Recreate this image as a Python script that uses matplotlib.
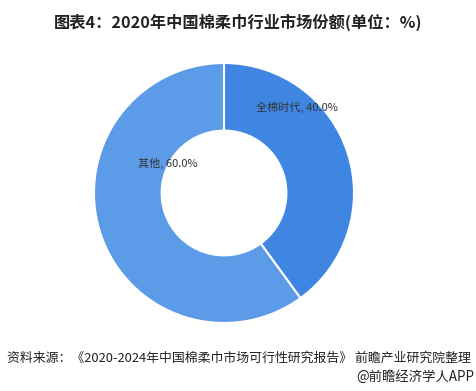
import matplotlib.pyplot as plt

plt.rcParams['font.family'] = ['Noto Sans CJK SC', 'DejaVu Sans']

labels = ['全棉时代', '其他']
shares = [40.0, 60.0]
colors = ['#3F86E2', '#5C9BE8']

fig = plt.figure(figsize=(4.76, 3.91), dpi=100)
# axes placed so the ring centre sits at about (224, 193) px
ax = fig.add_axes([(224 - 130) / 476, 1 - (193 + 130) / 391, 260 / 476, 260 / 391])
wedges, _ = ax.pie(shares, colors=colors, startangle=90, counterclock=False,
                   radius=1.0, wedgeprops=dict(width=0.52, edgecolor='white', linewidth=1.5))
ax.set_xlim(-1.0, 1.0)
ax.set_ylim(-1.0, 1.0)
ax.set_aspect('equal')
ax.axis('off')

ax.text(0.25, 0.66, f'{labels[0]}, {shares[0]:.1f}%', fontsize=8, color='#333333', ha='left', va='center')
ax.text(-0.66, 0.23, f'{labels[1]}, {shares[1]:.1f}%', fontsize=8, color='#333333', ha='left', va='center')

fig.text(0.5, 1 - 22 / 391, '图表4：2020年中国棉柔巾行业市场份额(单位：%)', fontsize=11.7,
         fontweight='bold', ha='center', va='center', color='#222222')
fig.text(7 / 476, 1 - 358 / 391, '资料来源：《2020-2024年中国棉柔巾市场可行性研究报告》 前瞻产业研究院整理',
         fontsize=9.3, ha='left', va='center', color='#222222')
fig.text(474 / 476, 1 - 377 / 391, '@前瞻经济学人APP', fontsize=9.6, ha='right', va='center', color='#222222')

fig.savefig('out.png', dpi=100, facecolor='white')
